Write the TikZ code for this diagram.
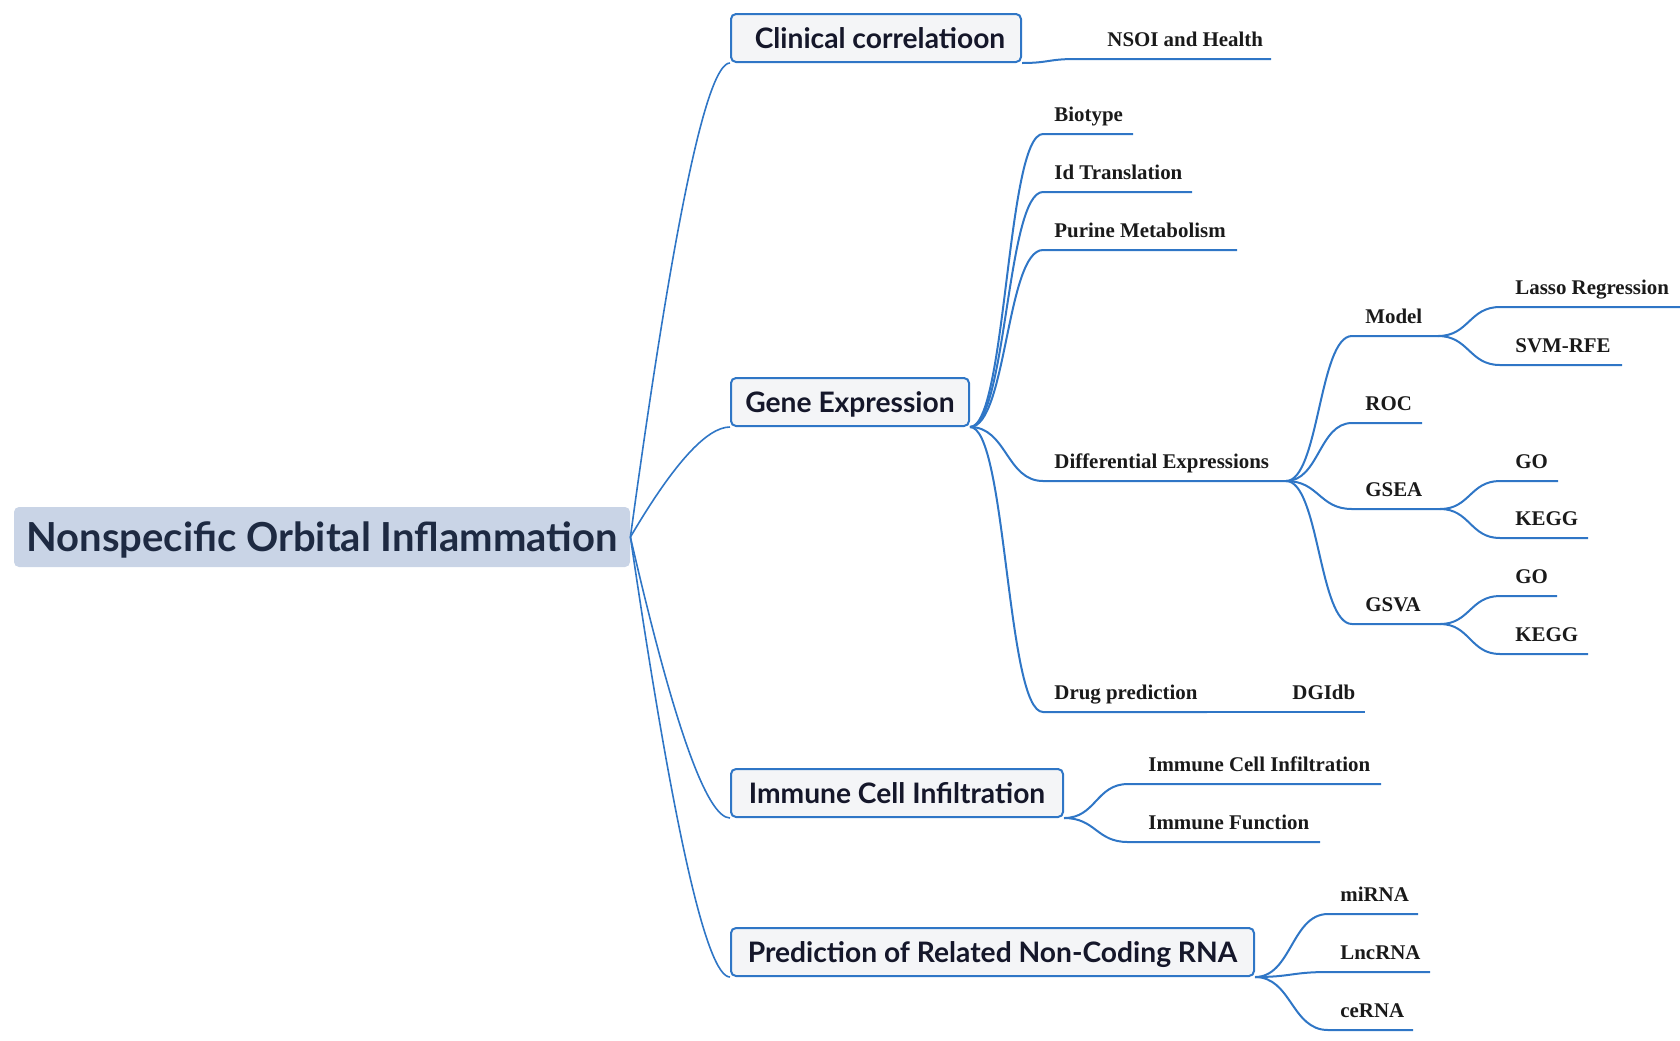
\documentclass[tikz,border=0pt]{standalone}
\usepackage{fontspec}
\setmainfont{Liberation Serif}
\newfontfamily\boxfont{Lato}
\usetikzlibrary{calc}
\definecolor{linkblue}{HTML}{2F76C6}
\definecolor{rootfill}{HTML}{C9D4E6}
\definecolor{boxfill}{HTML}{F4F5F7}
\definecolor{roottext}{HTML}{1E2A42}
\definecolor{boxtext}{HTML}{15172A}
\definecolor{leaftext}{HTML}{1A1A1A}
\tikzset{
  rootbox/.style={fill=rootfill, rounded corners=2.5pt, inner sep=0pt,
    minimum width=308pt, minimum height=30pt, text=roottext,
    font=\boxfont\bfseries\fontsize{20}{23}\selectfont,
    text height=14.3pt, text depth=0pt},
  lonebox/.style={draw=linkblue, line width=1pt, fill=boxfill, rounded corners=2.5pt,
    inner sep=0pt, minimum height=24pt, text=boxtext,
    font=\boxfont\bfseries\fontsize{14.1}{16}\selectfont,
    text height=10.1pt, text depth=0pt},
  leaf/.style={anchor=base west, inner sep=0pt, text=leaftext,
    font=\bfseries\fontsize{10.45}{12}\selectfont},
  link/.style={draw=linkblue, line width=1pt},
  rlink/.style={draw=linkblue, line width=0.8pt},
  rootcurve/.style={to path={let \p1=(\tikztostart), \p2=(\tikztotarget) in
    .. controls ({\x1+0.433*(\x2-\x1)},{\y1+0.667*(\y2-\y1)}) and ({\x2-0.233*(\x2-\x1)},\y2) .. (\tikztotarget)}},
  scurve/.style={to path={let \p1=(\tikztostart), \p2=(\tikztotarget) in
    .. controls ({0.5*(\x1+\x2)},\y1) and ({0.5*(\x1+\x2)},\y2) .. (\tikztotarget)}},
}
\begin{document}
\begin{tikzpicture}[x=0.5pt,y=-0.5pt]
\useasboundingbox (0,0) rectangle (1680,1040);

% root and main topics
\node[rootbox] (root) at (322,537) {Nonspecific Orbital Inflammation};
\node[lonebox, minimum width=145pt] (clin) at (876,38) {\hspace*{4pt}Clinical correlatioon};
\node[lonebox, minimum width=119pt] (gene) at (850,402) {Gene Expression};
\node[lonebox, minimum width=166pt] (imm) at (897,793) {Immune Cell Infiltration};
\node[lonebox, minimum width=261.5pt] (pred) at (992.5,952) {Prediction of Related Non-Coding RNA};

\draw[rlink] (root.east) to[rootcurve] (clin.south west);
\draw[rlink] (root.east) to[rootcurve] (gene.south west);
\draw[rlink] (root.east) to[rootcurve] (imm.south west);
\draw[rlink] (root.east) to[rootcurve] (pred.south west);

% Clinical correlation
\coordinate (nsoi-s) at (1075,59); \coordinate (nsoi-e) at (1271,59);
\node[leaf] (nsoi) at (1107,46) {NSOI and Health};
\draw[link] (clin.south east) to[scurve] (nsoi-s) -- (nsoi-e);

% Gene expression
\coordinate (bio-s) at (1043,134); \coordinate (bio-e) at (1133,134);
\node[leaf] (bio) at (1054,121) {Biotype};
\coordinate (idt-s) at (1043,192); \coordinate (idt-e) at (1192,192);
\node[leaf] (idt) at (1054,179) {Id Translation};
\coordinate (pur-s) at (1043,250); \coordinate (pur-e) at (1237,250);
\node[leaf] (pur) at (1054,237) {Purine Metabolism};
\coordinate (dif-s) at (1043,481); \coordinate (dif-e) at (1286,481);
\node[leaf] (dif) at (1054,468) {Differential Expressions};
\coordinate (drug-s) at (1043,712); \coordinate (drug-e) at (1207,712);
\node[leaf] (drug) at (1054,699) {Drug prediction};
\coordinate (dgi-e) at (1365,712);
\node[leaf] (dgi) at (1292,699) {DGIdb};

\draw[link] (gene.south east) to[scurve] (bio-s) -- (bio-e);
\draw[link] (gene.south east) to[scurve] (idt-s) -- (idt-e);
\draw[link] (gene.south east) to[scurve] (pur-s) -- (pur-e);
\draw[link] (gene.south east) to[scurve] (dif-s) -- (dif-e);
\draw[link] (gene.south east) to[scurve] (drug-s) -- (drug-e);
\draw[link] (drug-e) -- (dgi-e);

% Differential expressions
\coordinate (mod-s) at (1352,336); \coordinate (mod-e) at (1438,336);
\node[leaf] (mod) at (1365,323) {Model};
\coordinate (roc-s) at (1352,423); \coordinate (roc-e) at (1422,423);
\node[leaf] (roc) at (1365,410) {ROC};
\coordinate (gsea-s) at (1352,509); \coordinate (gsea-e) at (1440,509);
\node[leaf] (gsea) at (1365,496) {GSEA};
\coordinate (gsva-s) at (1352,624); \coordinate (gsva-e) at (1440,624);
\node[leaf] (gsva) at (1365,611) {GSVA};

\draw[link] (dif-e) to[scurve] (mod-s) -- (mod-e);
\draw[link] (dif-e) to[scurve] (roc-s) -- (roc-e);
\draw[link] (dif-e) to[scurve] (gsea-s) -- (gsea-e);
\draw[link] (dif-e) to[scurve] (gsva-s) -- (gsva-e);

% Model
\coordinate (las-s) at (1500,307); \coordinate (las-e) at (1680,307);
\node[leaf] (las) at (1515,294) {Lasso Regression};
\coordinate (svm-s) at (1500,365); \coordinate (svm-e) at (1622,365);
\node[leaf] (svm) at (1515,352) {SVM-RFE};
\draw[link] (mod-e) to[scurve] (las-s) -- (las-e);
\draw[link] (mod-e) to[scurve] (svm-s) -- (svm-e);

% GSEA
\coordinate (goa-s) at (1500,481); \coordinate (goa-e) at (1558,481);
\node[leaf] (goa) at (1515,468) {GO};
\coordinate (kga-s) at (1500,538); \coordinate (kga-e) at (1588,538);
\node[leaf] (kga) at (1515,525) {KEGG};
\draw[link] (gsea-e) to[scurve] (goa-s) -- (goa-e);
\draw[link] (gsea-e) to[scurve] (kga-s) -- (kga-e);

% GSVA
\coordinate (gob-s) at (1500,596); \coordinate (gob-e) at (1557,596);
\node[leaf] (gob) at (1515,583) {GO};
\coordinate (kgb-s) at (1500,654); \coordinate (kgb-e) at (1588,654);
\node[leaf] (kgb) at (1515,641) {KEGG};
\draw[link] (gsva-e) to[scurve] (gob-s) -- (gob-e);
\draw[link] (gsva-e) to[scurve] (kgb-s) -- (kgb-e);

% Immune cell infiltration
\coordinate (ici-s) at (1128,784); \coordinate (ici-e) at (1381,784);
\node[leaf] (ici) at (1148,771) {Immune Cell Infiltration};
\coordinate (ifn-s) at (1128,842); \coordinate (ifn-e) at (1320,842);
\node[leaf] (ifn) at (1148,829) {Immune Function};
\draw[link] (imm.south east) to[scurve] (ici-s) -- (ici-e);
\draw[link] (imm.south east) to[scurve] (ifn-s) -- (ifn-e);

% Non-coding RNA
\coordinate (mir-s) at (1328,914); \coordinate (mir-e) at (1418,914);
\node[leaf] (mir) at (1340,901) {miRNA};
\coordinate (lnc-s) at (1328,972); \coordinate (lnc-e) at (1430,972);
\node[leaf] (lnc) at (1340,959) {LncRNA};
\coordinate (cer-s) at (1328,1030); \coordinate (cer-e) at (1413,1030);
\node[leaf] (cer) at (1340,1017) {ceRNA};
\draw[link] (pred.south east) to[scurve] (mir-s) -- (mir-e);
\draw[link] (pred.south east) to[scurve] (lnc-s) -- (lnc-e);
\draw[link] (pred.south east) to[scurve] (cer-s) -- (cer-e);
\end{tikzpicture}
\end{document}
